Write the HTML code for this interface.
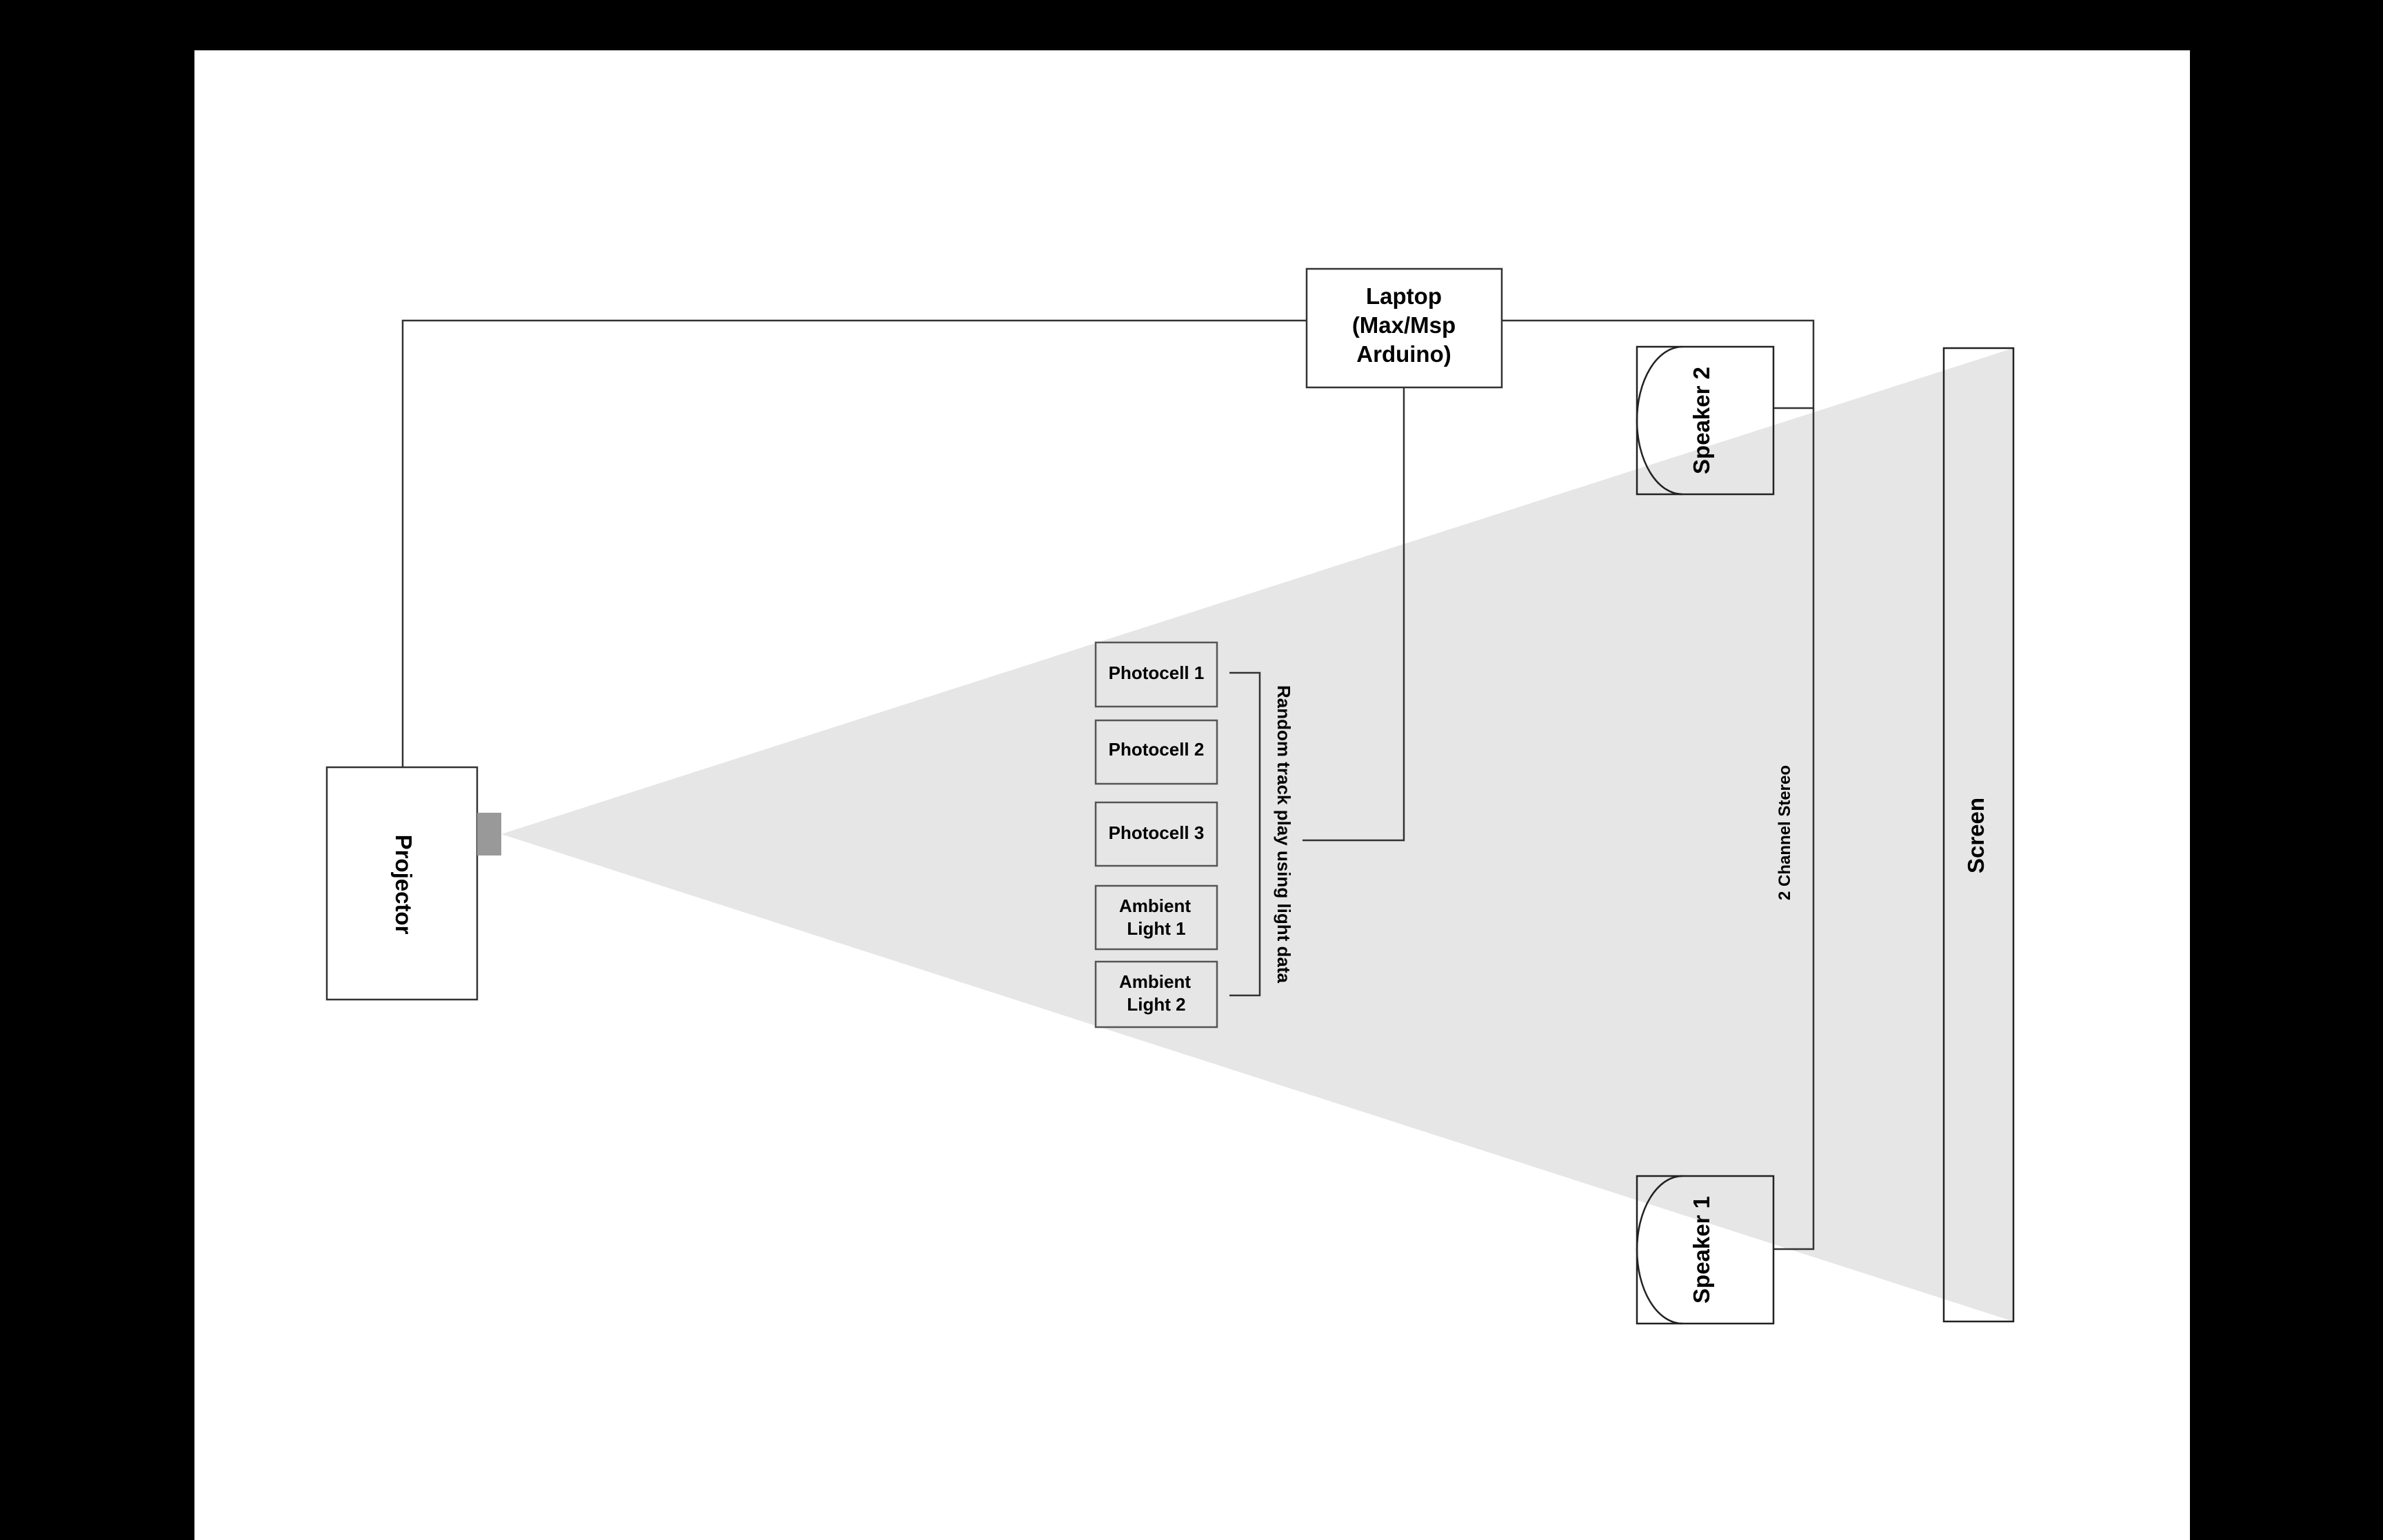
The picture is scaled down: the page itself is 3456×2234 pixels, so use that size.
<!DOCTYPE html>
<html><head><meta charset="utf-8"><style>
html,body{margin:0;padding:0;background:#000;}
svg{display:block;}
text{font-family:"Liberation Sans",Arial,sans-serif;font-weight:bold;fill:#000;}
</style></head><body>
<svg width="3456" height="2234" viewBox="0 0 3456 2234" xmlns="http://www.w3.org/2000/svg">
<rect x="0" y="0" width="3456" height="2234" fill="#000"/>
<rect x="282" y="73" width="2894" height="2161" fill="#fff"/>
<polygon points="727,1210 2920,505 2920,1917" fill="#e6e6e6"/>
<g stroke="#333" stroke-width="2.5" fill="none">
<polyline points="584,1113 584,465 1895,465"/>
<polyline points="2178,465 2630,465 2630,592 2572,592"/>
<polyline points="2630,592 2630,1812 2572,1812"/>
<polyline points="2036,562 2036,1219 1889,1219"/>
<polyline points="1783,976 1827,976 1827,1444 1783,1444"/>
</g>
<rect x="1895" y="390" width="283" height="172" fill="#fff" stroke="#333" stroke-width="2.5"/>
<text x="2036" y="441" font-size="33" text-anchor="middle">Laptop</text>
<text x="2036" y="483" font-size="33" text-anchor="middle">(Max/Msp</text>
<text x="2036" y="525" font-size="33" text-anchor="middle">Arduino)</text>
<rect x="474" y="1113" width="218" height="337" fill="#fff" stroke="#333" stroke-width="2.5"/>
<rect x="692" y="1179" width="35" height="62" fill="#999"/>
<text x="0" y="0" font-size="33" text-anchor="middle" transform="translate(574,1283) rotate(90)">Projector</text>
<g stroke="#555" stroke-width="2.5" fill="#e6e6e6">
<rect x="1589" y="932" width="176" height="93"/>
<rect x="1589" y="1045" width="176" height="92"/>
<rect x="1589" y="1164" width="176" height="92"/>
<rect x="1589" y="1285" width="176" height="92"/>
<rect x="1589" y="1395" width="176" height="95"/>
</g>
<g font-size="26" text-anchor="middle">
<text x="1677" y="985">Photocell 1</text>
<text x="1677" y="1096">Photocell 2</text>
<text x="1677" y="1217">Photocell 3</text>
<text x="1675" y="1323">Ambient</text>
<text x="1677" y="1356">Light 1</text>
<text x="1675" y="1433">Ambient</text>
<text x="1677" y="1466">Light 2</text>
</g>
<text x="0" y="0" font-size="26" text-anchor="middle" transform="translate(1853,1210) rotate(90)">Random track play using light data</text>
<g stroke="#222" stroke-width="2.5" fill="none">
<rect x="2374" y="503" width="198" height="214"/>
<path d="M2440,503 A66,107 0 0 0 2440,717"/>
<rect x="2374" y="1706" width="198" height="214"/>
<path d="M2440,1706 A66,107 0 0 0 2440,1920"/>
</g>
<text x="0" y="0" font-size="33" text-anchor="middle" transform="translate(2479,610) rotate(-90)">Speaker 2</text>
<text x="0" y="0" font-size="33" text-anchor="middle" transform="translate(2479,1813) rotate(-90)">Speaker 1</text>
<text x="0" y="0" font-size="24" text-anchor="middle" transform="translate(2596,1208) rotate(-90)">2 Channel Stereo</text>
<rect x="2819" y="505" width="101" height="1412" fill="none" stroke="#222" stroke-width="2.5"/>
<text x="0" y="0" font-size="33" text-anchor="middle" transform="translate(2877,1212) rotate(-90)">Screen</text>
</svg>
</body></html>
